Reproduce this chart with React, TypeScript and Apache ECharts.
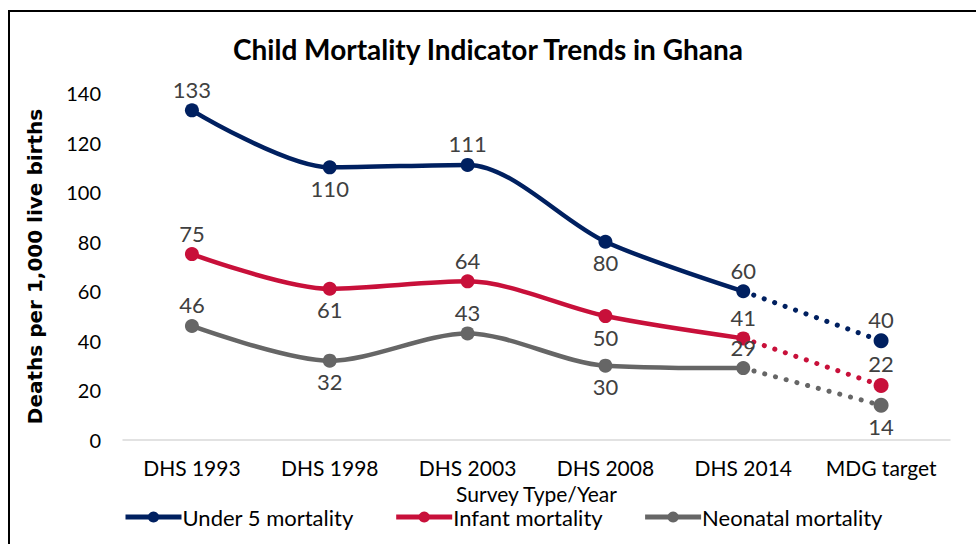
import React, { useEffect, useRef } from "react";
import * as echarts from "echarts";

const categories = ["DHS 1993", "DHS 1998", "DHS 2003", "DHS 2008", "DHS 2014", "MDG target"];
const under5 = [133, 110, 111, 80, 60, 40];
const infant = [75, 61, 64, 50, 41, 22];
const neonatal = [46, 32, 43, 30, 29, 14];
const under5Pos = ["top", "bottom", "top", "bottom", "top", "top"];
const infantPos = ["top", "bottom", "top", "bottom", "top", "top"];
const neonatalPos = ["top", "bottom", "top", "bottom", "top", "bottom"];
const seriesNames = ["Under 5 mortality", "Infant mortality", "Neonatal mortality"];
const colors = ["#002060", "#C8103A", "#666666"];

const FONT = "Lato, 'Open Sans', sans-serif";

function buildSeries(name: string, values: number[], pos: string[], color: string) {
  const n = values.length;
  const solid = values.map((v, i) =>
    i < n - 1 ? { value: v, label: { position: pos[i] } } : "-"
  );
  const dotted = values.map((v, i) => {
    if (i === n - 1) return { value: v, label: { show: true, position: pos[i] } };
    if (i === n - 2) return { value: v, symbol: "none", label: { show: false } };
    return "-";
  });
  const label = {
    show: true,
    color: "#404040",
    fontFamily: FONT,
    fontSize: 22,
    distance: 3,
  };
  return [
    {
      name,
      type: "line",
      data: solid,
      smooth: 0.3,
      symbol: "circle",
      symbolSize: 14,
      itemStyle: { color },
      lineStyle: { color, width: 4.5 },
      label,
      z: 3,
    },
    {
      name: name + " target",
      type: "line",
      data: dotted,
      symbol: "circle",
      symbolSize: 15,
      itemStyle: { color },
      lineStyle: { color, width: 5, type: [0.1, 11], cap: "round" },
      label,
      z: 2,
    },
  ];
}

export default function App() {
  const ref = useRef<HTMLDivElement>(null);
  useEffect(() => {
    if (!ref.current) return;
    const chart = echarts.init(ref.current, undefined, { renderer: "svg" });
    chart.setOption({
      animation: false,
      backgroundColor: "#ffffff",
      title: {
        text: "Child Mortality Indicator Trends in Ghana",
        left: "center",
        top: 30,
        textStyle: { fontFamily: FONT, fontWeight: "bold", fontSize: 28, color: "#000" },
      },
      graphic: [
        {
          type: "polyline",
          shape: { points: [[9, 600], [9, 11], [1000, 11]] },
          style: { stroke: "#000", lineWidth: 2, fill: "none" },
          silent: true,
        },
      ],
      legend: {
        data: seriesNames,
        bottom: 11,
        left: 118,
        itemWidth: 56,
        itemHeight: 14,
        itemGap: 40,
        lineStyle: { width: 5 },
        textStyle: { fontFamily: FONT, fontSize: 22, color: "#000", padding: [0, 0, 0, -4] },
      },
      grid: { left: 123, right: 26, top: 93, bottom: 104, containLabel: false },
      xAxis: {
        type: "category",
        data: categories,
        name: "Survey Type/Year",
        nameLocation: "middle",
        nameGap: 38,
        nameTextStyle: { fontFamily: FONT, fontSize: 21, color: "#000", lineHeight: 21 },
        axisLine: { lineStyle: { color: "#d9d9d9", width: 1.5 } },
        axisTick: { show: false },
        axisLabel: { fontFamily: FONT, fontSize: 21, color: "#000", margin: 17, interval: 0 },
      },
      yAxis: {
        type: "value",
        min: 0,
        max: 140,
        interval: 20,
        name: "Deaths per 1,000 live births",
        nameLocation: "middle",
        nameGap: 78,
        nameTextStyle: { fontFamily: "'DejaVu Sans', sans-serif", fontSize: 20, fontWeight: "bold", color: "#000" },
        axisLine: { show: false },
        axisTick: { show: false },
        splitLine: { show: false },
        axisLabel: { fontFamily: FONT, fontSize: 20, color: "#000", margin: 22 },
      },
      series: [
        ...buildSeries(seriesNames[0], under5, under5Pos, colors[0]),
        ...buildSeries(seriesNames[1], infant, infantPos, colors[1]),
        ...buildSeries(seriesNames[2], neonatal, neonatalPos, colors[2]),
      ],
    });
    return () => chart.dispose();
  }, []);
  return (
    <div
      ref={ref}
      style={{ position: "absolute", left: 0, top: 0, width: 976, height: 544 }}
    />
  );
}
